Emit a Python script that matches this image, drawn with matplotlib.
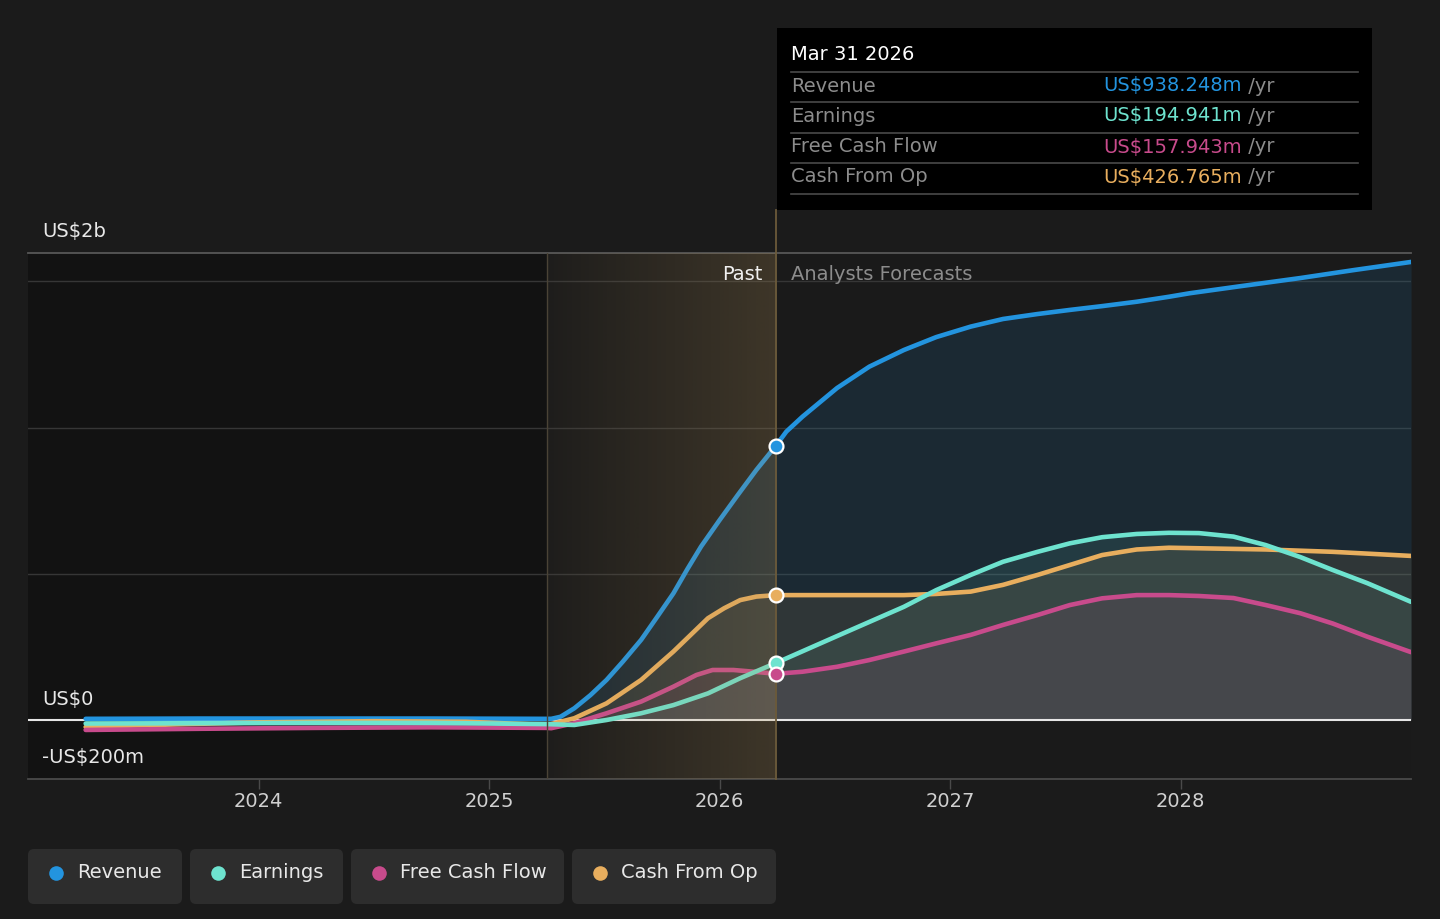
import matplotlib
matplotlib.use("Agg")
import matplotlib.pyplot as plt
import numpy as np
from matplotlib.patches import Rectangle, FancyBboxPatch
from matplotlib.colors import to_rgb

# ---------------- data (US$ millions, x = fractional year) ----------------
rev_t = [2023.25, 2023.75, 2024.25, 2024.75, 2025.25, 2025.27, 2025.31, 2025.37, 2025.44, 2025.51,
         2025.58, 2025.66, 2025.73, 2025.80, 2025.86, 2025.92, 2026.0, 2026.08, 2026.16, 2026.245,
         2026.29, 2026.36, 2026.51, 2026.65, 2026.80, 2026.94, 2027.09, 2027.23, 2027.38, 2027.52,
         2027.66, 2027.81, 2027.95, 2028.04, 2028.25, 2028.52, 2028.75, 2029.0]
rev_v = [4, 5, 5, 5, 4, 4, 11, 40, 85, 137,
         199, 274, 353, 433, 515, 593, 683, 770, 855, 938,
         986, 1037, 1135, 1208, 1265, 1309, 1345, 1371, 1388, 1402,
         1415, 1430, 1447, 1459, 1482, 1511, 1538, 1566]

earn_t = [2023.25, 2023.75, 2024.25, 2024.75, 2025.25, 2025.37, 2025.51, 2025.66, 2025.80, 2025.95,
          2026.09, 2026.245, 2026.51, 2026.80, 2026.94, 2027.09, 2027.23, 2027.38, 2027.52, 2027.66,
          2027.81, 2027.95, 2028.08, 2028.23, 2028.37, 2028.52, 2028.66, 2028.81, 2029.0]
earn_v = [-12, -11, -10, -10, -14, -17, 0, 23, 51, 91,
          143, 195, 287, 387, 444, 496, 541, 575, 604, 625,
          636, 640, 639, 627, 598, 557, 513, 468, 404]

fcf_t = [2023.25, 2023.75, 2024.25, 2024.75, 2025.25, 2025.27, 2025.37, 2025.51, 2025.66, 2025.80,
         2025.90, 2025.97, 2026.06, 2026.15, 2026.245, 2026.36, 2026.51, 2026.65, 2026.80, 2026.94,
         2027.09, 2027.23, 2027.38, 2027.52, 2027.66, 2027.81, 2027.95, 2028.08, 2028.23, 2028.37,
         2028.52, 2028.66, 2028.81, 2029.0]
fcf_v = [-34, -30, -27, -25, -27, -28, -11, 23, 63, 114,
         154, 171, 171, 165, 158, 165, 182, 205, 234, 262,
         291, 325, 359, 393, 416, 427, 427, 424, 417, 393,
         365, 330, 285, 232]

cfo_t = [2023.25, 2023.5, 2024.0, 2024.5, 2024.9, 2025.25, 2025.27, 2025.37, 2025.51, 2025.66,
         2025.80, 2025.95, 2026.02, 2026.09, 2026.16, 2026.245, 2026.5, 2026.8, 2026.94, 2027.09,
         2027.23, 2027.38, 2027.52, 2027.66, 2027.81, 2027.95, 2028.23, 2028.37, 2028.66, 2029.0]
cfo_v = [-24, -18, -8, -4, -6, -17, -14, 6, 57, 137,
         234, 348, 382, 410, 422, 427, 427, 427, 431, 439,
         462, 496, 530, 564, 583, 589, 585, 583, 575, 561]

series_names = ["Revenue", "Earnings", "Free Cash Flow", "Cash From Op"]
series_colors = ["#2394df", "#6ee3cf", "#c84b8c", "#e8ae5e"]
fill_alphas = [0.13, 0.10, 0.10, 0.10]
tooltip_date = "Mar 31 2026"
tooltip_values = ["US$938.248m", "US$194.941m", "US$157.943m", "US$426.765m"]
marker_values = [938.248, 194.941, 157.943, 426.765]
year_ticks = [2024, 2025, 2026, 2027, 2028]
grid_vals = [500, 1000, 1500]
past_start = 2025.25
today = 2026.245
x_min, x_max = 2023.0, 2029.0
y_min, y_max = -201.7, 1596.6

# ---------------- figure ----------------
W, H = 1440, 919
fig = plt.figure(figsize=(W / 100, H / 100), dpi=100, facecolor="#1b1b1b")
L, R, T, B = 28, 1411, 253, 779
ax = fig.add_axes([L / W, 1 - B / H, (R - L) / W, (B - T) / H])
ax.set_facecolor("#1a1a1a")
ax.set_xlim(x_min, x_max)
ax.set_ylim(y_min, y_max)

# dark past region
ax.axvspan(x_min, past_start, color="#121212", zorder=0, lw=0)

# gridlines
for g in grid_vals:
    ax.axhline(g, color="#363636", lw=1.0, zorder=1)
ax.axhline(y_max, color="#575757", lw=1.3, zorder=1, clip_on=False)

# fills and lines
all_series = [(rev_t, rev_v), (earn_t, earn_v), (fcf_t, fcf_v), (cfo_t, cfo_v)]
for (t, v), c, a in zip(all_series, series_colors, fill_alphas):
    ax.fill_between(t, v, 0, color=c, alpha=a, lw=0, zorder=2)
ax.axhline(0, color="#e6e6e6", lw=1.5, zorder=3)
draw_order = [0, 3, 2, 1]
for i in draw_order:
    t, v = all_series[i]
    ax.plot(t, v, color=series_colors[i], lw=3.3, zorder=4,
            solid_capstyle="round", solid_joinstyle="round")

# golden gradient overlay for recent past
n = 256
grad = np.zeros((1, n, 4))
gc = to_rgb("#b8955a")
grad[..., 0], grad[..., 1], grad[..., 2] = gc
grad[..., 3] = np.linspace(0.03, 0.23, n)
ax.imshow(grad, extent=[past_start, today, y_min, y_max], aspect="auto",
          interpolation="bilinear", zorder=5)
ax.set_xlim(x_min, x_max)
ax.set_ylim(y_min, y_max)

# vertical lines
ax.axvline(past_start, color="#4a4336", lw=1.0, zorder=5)
ax.plot([today, today], [y_min, y_max + (y_max - y_min) * 0.082], color="#6b5a3a",
        lw=1.3, zorder=5, clip_on=False)

# markers
for val, c in zip(marker_values, series_colors):
    ax.plot([today], [val], "o", ms=10, mfc=c, mec="white", mew=1.6, zorder=7)

# axes styling
for s in ["top", "left", "right"]:
    ax.spines[s].set_visible(False)
ax.spines["bottom"].set_color("#4a4a4a")
ax.spines["bottom"].set_linewidth(1.3)
ax.set_yticks([])
ax.set_xticks(year_ticks)
ax.set_xticklabels([str(y) for y in year_ticks])
ax.tick_params(axis="x", colors="#4a4a4a", labelcolor="#d0d0d0", labelsize=14,
               length=7, width=1, pad=2.5)

# ---------------- overlay for annotations ----------------
ov = fig.add_axes([0, 0, 1, 1], zorder=10)
ov.set_xlim(0, W)
ov.set_ylim(H, 0)
ov.axis("off")
ov.patch.set_alpha(0)

fs = 14
ov.text(42, 232, "US$2b", color="#e8e8e8", fontsize=fs, va="center", ha="left")
ov.text(42, 699, "US$0", color="#e8e8e8", fontsize=fs, va="center", ha="left")
ov.text(42, 758, "-US$200m", color="#e8e8e8", fontsize=fs, va="center", ha="left")
ov.text(762, 274, "Past", color="#f0f0f0", fontsize=fs, va="center", ha="right")
ov.text(791, 274, "Analysts Forecasts", color="#8c8c8c", fontsize=fs, va="center", ha="left")

# tooltip
ov.add_patch(Rectangle((777, 28), 595, 182, fc="#000000", ec="none"))
ov.text(791, 55, tooltip_date, color="#ffffff", fontsize=fs, va="center", ha="left")
sep_y = [72, 102, 133, 163, 194]
for yy in sep_y:
    ov.plot([791, 1358], [yy, yy], color="#4a4a4a", lw=1.2)
row_y = [86, 116, 147, 177]
for yy, name, val, c in zip(row_y, series_names, tooltip_values, series_colors):
    ov.text(791, yy, name, color="#8c8c8c", fontsize=fs, va="center", ha="left")
    tv = ov.text(1103, yy, val, color=c, fontsize=fs, va="center", ha="left")
    ov.annotate(" /yr", xycoords=tv, xy=(1, 0.5), va="center", ha="left",
                color="#8c8c8c", fontsize=fs)

# legend
box_x = [28, 190, 351, 572]
box_w = [154, 153, 213, 204]
for bx, bw, name, c in zip(box_x, box_w, series_names, series_colors):
    ov.add_patch(FancyBboxPatch((bx, 849), bw, 55, boxstyle="round,pad=0,rounding_size=6",
                                fc="#2d2d2d", ec="none"))
    ov.plot([bx + 28], [873], "o", ms=10.5, color=c, mec="none")
    ov.text(bx + 49, 873, name, color="#e8e8e8", fontsize=fs, va="center", ha="left")

fig.savefig("out.png", dpi=100, facecolor=fig.get_facecolor())
